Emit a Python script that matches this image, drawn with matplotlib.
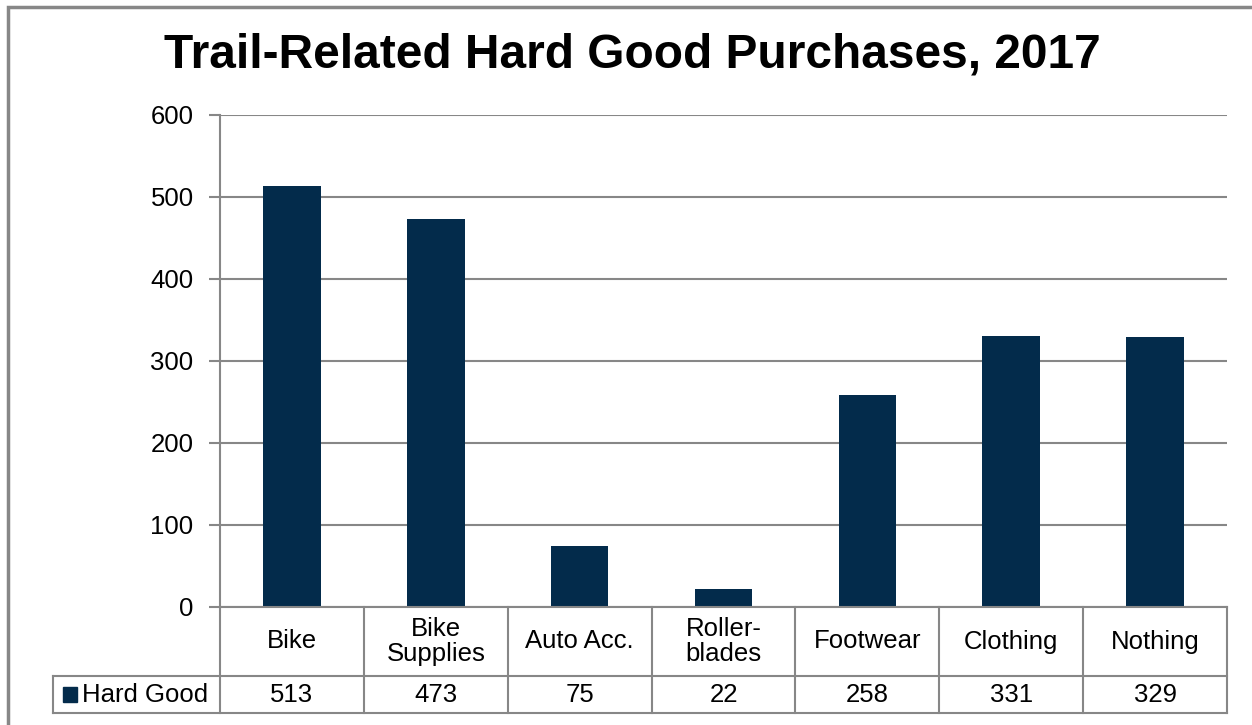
import matplotlib.pyplot as plt
from matplotlib.patches import Rectangle

plt.rcParams['font.family'] = ['Liberation Sans', 'DejaVu Sans']

# 数据
categories = ['Bike', 'Bike\nSupplies', 'Auto Acc.', 'Roller-\nblades', 'Footwear', 'Clothing', 'Nothing']
hard_good = [513, 473, 75, 22, 258, 331, 329]
series_name = 'Hard Good'
title = 'Trail-Related Hard Good Purchases, 2017'

bar_color = '#032b4b'
line_color = '#878787'
W, H = 1252, 725
fs = 18.5

fig = plt.figure(figsize=(W / 100, H / 100), dpi=100)

# 外边框
fig.patches.append(Rectangle((8 / W, -0.1), 1.2, 1 - 7 / H + 0.1, transform=fig.transFigure,
                             fill=False, edgecolor=line_color, linewidth=2.5))

# 柱状图区域 (像素: x 220-1227, y 115-607)
ax = fig.add_axes([220 / W, 1 - 607 / H, (1227 - 220) / W, (607 - 115) / H])
x = list(range(len(categories)))
ax.bar(x, hard_good, width=0.4, color=bar_color, zorder=3)
ax.set_xlim(-0.5, len(categories) - 0.5)
ax.set_ylim(0, 600)
ax.set_yticks(range(0, 601, 100))
ax.yaxis.grid(True, color=line_color, linewidth=1.5)
ax.set_axisbelow(True)
ax.set_xticks([])
for s in ['top', 'right', 'bottom']:
    ax.spines[s].set_visible(False)
ax.spines['left'].set_color(line_color)
ax.spines['left'].set_linewidth(1.5)
ax.tick_params(axis='y', length=8, width=1.5, color=line_color, labelsize=fs, pad=11)

fig.text(632 / W, 1 - 55 / H, title, ha='center', va='center', fontsize=34.5, fontweight='bold')

# 数据表 (像素: y 607-713)
tab = fig.add_axes([220 / W, 1 - 713 / H, (1227 - 220) / W, (713 - 607) / H])
tab.set_xlim(ax.get_xlim())
tab.set_ylim(0, 1)
tab.axis('off')
mid = (713 - 676) / (713 - 607)
label_left = -0.5 - (220 - 53) / ((1227 - 220) / len(categories))
lk = dict(color=line_color, linewidth=1.5, clip_on=False, solid_capstyle='projecting')

tab.plot([-0.5, len(categories) - 0.5], [1, 1], **lk)
tab.plot([label_left, len(categories) - 0.5], [mid, mid], **lk)
tab.plot([label_left, len(categories) - 0.5], [0, 0], **lk)
tab.plot([label_left, label_left], [0, mid], **lk)
for i in range(len(categories) + 1):
    tab.plot([i - 0.5, i - 0.5], [0, 1], **lk)

for i, (c, v) in enumerate(zip(categories, hard_good)):
    tab.text(i, (1 + mid) / 2, c, ha='center', va='center', fontsize=fs, linespacing=1.1)
    tab.text(i, mid / 2, str(v), ha='center', va='center', fontsize=fs)

# 图例标记
tab.add_patch(Rectangle((label_left + 0.07, mid / 2 - 0.07), 0.097, 0.14, color=bar_color, clip_on=False))
tab.text(label_left + 0.205, mid / 2, series_name, ha='left', va='center', fontsize=fs)

fig.savefig('out.png', dpi=100)
